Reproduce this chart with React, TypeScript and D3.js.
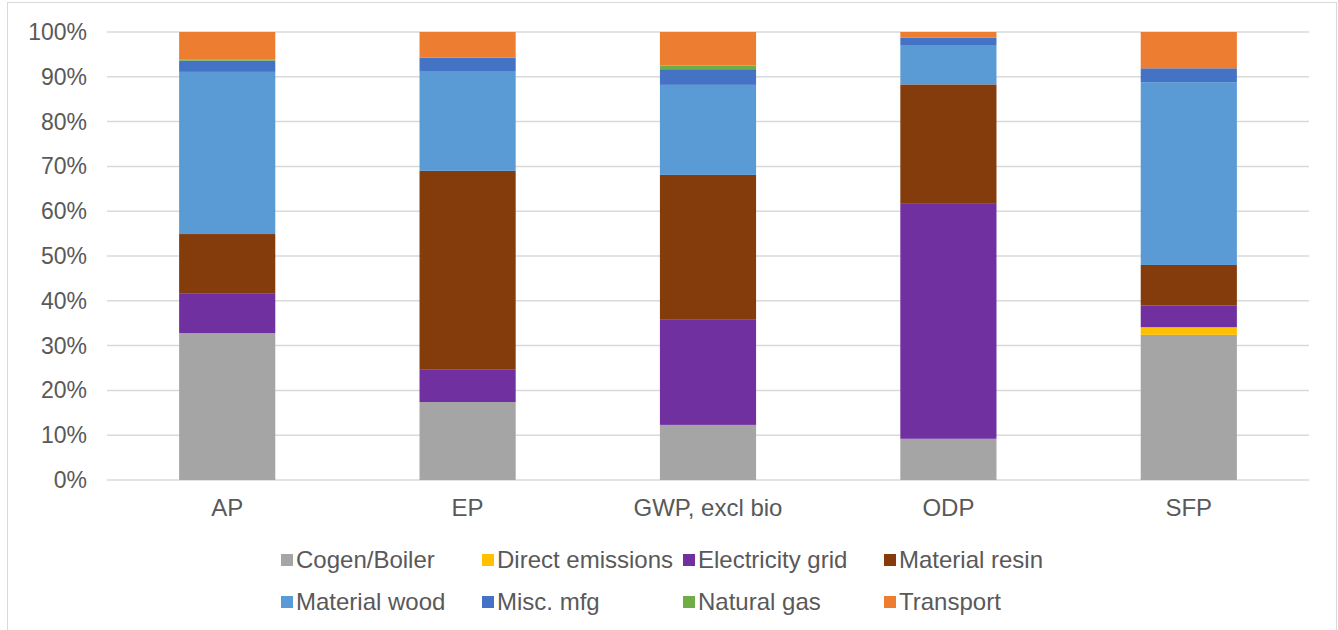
import React from "react";
import * as d3 from "d3";

const categories = ["AP", "EP", "GWP, excl bio", "ODP", "SFP"];
const seriesNames = [
  "Cogen/Boiler",
  "Direct emissions",
  "Electricity grid",
  "Material resin",
  "Material wood",
  "Misc. mfg",
  "Natural gas",
  "Transport",
];
const seriesColors = [
  "#A5A5A5",
  "#FFC000",
  "#7030A0",
  "#843C0C",
  "#5B9BD5",
  "#4472C4",
  "#70AD47",
  "#ED7D31",
];
// values in percent, per category (AP, EP, GWP, ODP, SFP)
const cogenBoiler = [32.8, 17.4, 12.3, 9.2, 32.4];
const directEmissions = [0, 0, 0, 0, 1.7];
const electricityGrid = [8.9, 7.2, 23.6, 52.6, 4.9];
const materialResin = [13.2, 44.4, 32.2, 26.5, 9.0];
const materialWood = [36.2, 22.3, 20.1, 8.8, 40.8];
const miscMfg = [2.5, 3.0, 3.5, 1.6, 3.1];
const naturalGas = [0.2, 0.0, 0.8, 0.0, 0.0];
const transport = [6.2, 5.7, 7.5, 1.3, 8.1];
const yTicks = [0, 10, 20, 30, 40, 50, 60, 70, 80, 90, 100];

const seriesValues = [
  cogenBoiler,
  directEmissions,
  electricityGrid,
  materialResin,
  materialWood,
  miscMfg,
  naturalGas,
  transport,
];

const W = 1338;
const H = 630;
const left = 107;
const right = 1309;
const top = 32;
const bottom = 480;
const font = "Liberation Sans, Arial, sans-serif";
const textColor = "#595959";

export default function App() {
  const rows = categories.map((c, i) => {
    const r: Record<string, number | string> = { cat: c };
    seriesNames.forEach((s, j) => {
      r[s] = seriesValues[j][i];
    });
    return r;
  });
  const stack = d3.stack<any>().keys(seriesNames);
  const stacked = stack(rows);
  const total = (i: number) => seriesValues.reduce((a, s) => a + s[i], 0);

  const x = d3.scaleBand<string>().domain(categories).range([left, right]).paddingInner(0.6).paddingOuter(0.3);
  const y = d3.scaleLinear().domain([0, 100]).range([bottom, top]);

  const legendX = [281, 482, 683, 884];
  const legendY = [560, 602];

  return (
    <svg width={W} height={H} style={{ position: "absolute", left: 0, top: 0, background: "#fff" }}>
      <rect x={7.5} y={2.5} width={1329} height={660} fill="#fff" stroke="#D9D9D9" strokeWidth={1} />
      {yTicks.map((t) => (
        <g key={t}>
          <line x1={left} x2={right} y1={y(t)} y2={y(t)} stroke="#D9D9D9" strokeWidth={1.5} />
          <text x={87} y={y(t)} dy="0.35em" textAnchor="end" fontFamily={font} fontSize={23} fill={textColor}>
            {t}%
          </text>
        </g>
      ))}
      {stacked.map((layer, j) => (
        <g key={layer.key} fill={seriesColors[j]}>
          {layer.map((d, i) => {
            const tot = total(i);
            const y0 = y((d[0] / tot) * 100);
            const y1 = y((d[1] / tot) * 100);
            if (y0 - y1 <= 0) return null;
            return (
              <rect
                key={i}
                x={x(categories[i])}
                width={x.bandwidth()}
                y={y1}
                height={y0 - y1}
              />
            );
          })}
        </g>
      ))}
      {categories.map((c) => (
        <text
          key={c}
          x={(x(c) as number) + x.bandwidth() / 2}
          y={516}
          textAnchor="middle"
          fontFamily={font}
          fontSize={24}
          fill={textColor}
        >
          {c}
        </text>
      ))}
      {seriesNames.map((s, j) => {
        const lx = legendX[j % 4];
        const ly = legendY[Math.floor(j / 4)];
        return (
          <g key={s}>
            <rect x={lx} y={ly - 6} width={12} height={12} fill={seriesColors[j]} />
            <text x={lx + 15} y={ly} dy="0.35em" fontFamily={font} fontSize={24} fill={textColor}>
              {s}
            </text>
          </g>
        );
      })}
    </svg>
  );
}
